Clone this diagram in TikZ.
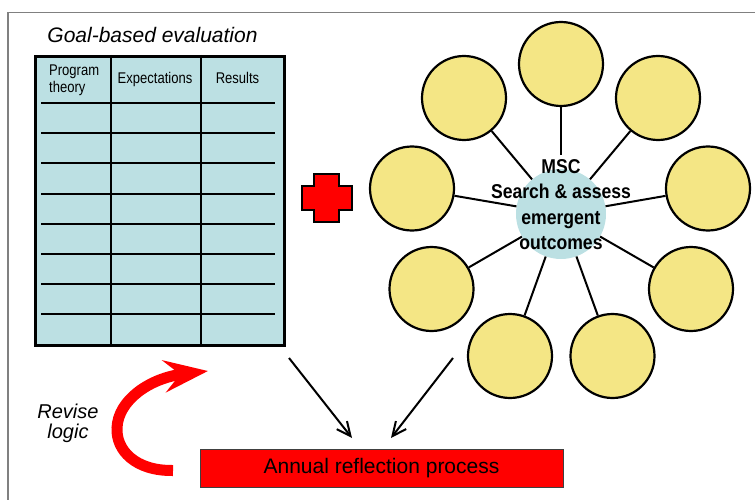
\documentclass[tikz,border=0pt]{standalone}
\usepackage{fontspec}
\setmainfont{Liberation Sans}
\newfontfamily\condfont{Liberation Sans}[FakeStretch=0.84]
\newfontfamily\msccond{Liberation Sans}[FakeStretch=0.88]
\usetikzlibrary{arrows.meta}
\definecolor{tblblue}{HTML}{BCE0E3}
\definecolor{circyellow}{HTML}{F4E685}
\definecolor{framegray}{HTML}{808080}
\begin{document}
\begin{tikzpicture}[x=1pt,y=-1pt,
  outer/.style={circle, draw=black, line width=2.2pt, fill=circyellow, minimum size=84pt, inner sep=0pt},
  spoke/.style={line width=2pt, black},
  hdr/.style={font=\condfont\fontsize{15.5}{17}\selectfont, inner sep=0pt},
  rowline/.style={line width=1.5pt},
  collect/.style={line width=2pt, -{Straight Barb[length=14pt,width=13pt]}},
  revise/.style={red, line width=11pt, -{Stealth[length=44pt,width=32pt,inset=16pt]}}
]
\useasboundingbox (0,0) rectangle (755,500);
\draw[framegray, line width=1.2pt] (8,500) -- (8,12.7) -- (755,12.7);

% goal-based evaluation table
\node[font=\itshape\fontsize{21}{25}\selectfont, anchor=base, inner sep=0pt] (title) at (152.5,43) {Goal-based evaluation};
\node[draw=black, line width=3pt, fill=tblblue, minimum width=249pt, minimum height=289pt, inner sep=0pt, anchor=north west] (tbl) at (34,55) {};
\draw[line width=1.6pt] (111,55) -- (111,344);
\draw[line width=1.6pt] (201,55) -- (201,344);
\foreach \y in {103,133,163,194,224,254,284,314}
  \draw[rowline] (41,\y) -- (275,\y);
\node[hdr, align=left, anchor=north west] (h1) at (49,65) {Program\\theory};
\node[hdr, anchor=base] (h2) at (155,84) {Expectations};
\node[hdr, anchor=base] (h3) at (237.5,84) {Results};

% plus sign
\draw[fill=red, line width=2pt, line join=miter]
  (313.8,173.6) -- (339.2,173.6) -- (339.2,185.8) -- (351.8,185.8) -- (351.8,209.9)
  -- (339.2,209.9) -- (339.2,222.1) -- (313.8,222.1) -- (313.8,209.9) -- (301.6,209.9)
  -- (301.6,185.8) -- (313.8,185.8) -- cycle;

% MSC cluster
\node[circle, fill=tblblue, minimum size=90pt, inner sep=0pt] (c) at (561,214) {};
\node[outer] (o1) at (561,64) {};
\node[outer] (o2) at (464,98) {};
\node[outer] (o3) at (658,98) {};
\node[outer] (o4) at (412,188.5) {};
\node[outer] (o5) at (708,188.5) {};
\node[outer] (o6) at (431.5,289) {};
\node[outer] (o7) at (691,289) {};
\node[outer] (o8) at (510,356) {};
\node[outer] (o9) at (612.5,356) {};
\node[font=\msccond\bfseries\fontsize{20}{25.5}\selectfont, align=center, inner sep=4pt] (msc) at (561,204.5)
  {MSC\\Search \& assess\\emergent\\outcomes};
\foreach \i in {2,...,9}
  \draw[spoke] (c) -- (o\i);
\draw[spoke] (msc.north) -- (o1);

% annual reflection
\node[draw=black!75, line width=1pt, fill=red, minimum width=363pt, minimum height=38pt, inner sep=0pt,
  font=\fontsize{21}{25}\selectfont] (arp) at (381.5,468) {Annual reflection process};
\coordinate (s1) at (289,358);
\coordinate (t1) at (352,438);
\coordinate (s2) at (453,358);
\coordinate (t2) at (391,438);
\draw[collect] (s1) -- (t1);
\draw[collect] (s2) -- (t2);

% revise logic
\coordinate (rv0) at (173,470.5);
\coordinate (rv1) at (117,428);
\coordinate (rv2) at (208,371);
\draw[revise] (rv0) .. controls (135,471) and (116,450) .. (rv1) .. controls (118,400) and (150,378) .. (rv2);
\node[font=\itshape\fontsize{20}{20}\selectfont, align=center, inner sep=0pt] (rev) at (68,423.5) {Revise\\logic};
\end{tikzpicture}
\end{document}
